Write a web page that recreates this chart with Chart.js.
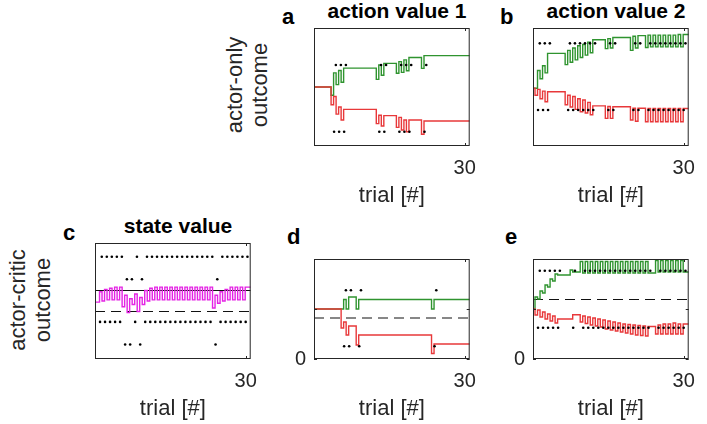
<!DOCTYPE html>
<html><head><meta charset="utf-8">
<script src="https://cdn.jsdelivr.net/npm/chart.js@4.4.1/dist/chart.umd.min.js"></script>
<style>
html,body{margin:0;padding:0;background:#fff;}
body{width:707px;height:424px;position:relative;overflow:hidden;font-family:"Liberation Sans",Arial,sans-serif;color:#262626;}
canvas{position:absolute;}
.t{position:absolute;white-space:nowrap;}
.title{font-weight:bold;font-size:21px;line-height:21px;width:240px;text-align:center;color:#000;}
.let{font-weight:bold;font-size:22px;line-height:22px;color:#000;}
.row{font-size:22px;line-height:25px;text-align:center;transform:translate(-50%,-50%) rotate(-90deg);color:#262626;}
</style></head><body>
<div class="t title" style="left:277px;top:0px;">action value 1</div>
<div class="t title" style="left:496px;top:0px;">action value 2</div>
<div class="t title" style="left:58px;top:215px;">state value</div>
<div class="t let" style="left:282px;top:6px;">a</div>
<div class="t let" style="left:500px;top:6px;">b</div>
<div class="t let" style="left:63px;top:222px;">c</div>
<div class="t let" style="left:287px;top:226px;">d</div>
<div class="t let" style="left:505px;top:226px;">e</div>
<div class="t row" style="left:247px;top:85px;">actor-only<br>outcome</div>
<div class="t row" style="left:30px;top:300px;">actor-critic<br>outcome</div>
<script>
// ---------------- data ----------------
const allTrials = [1,2,3,4,5,6,7,8,9,10,11,12,13,14,15,16,17,18,19,20,21,22,23,24,25,26,27,28,29,30];
// actor-only model: trials where action 1 / action 2 were chosen
const aoTrials1 = [4,5,6,13,14,17,18,19,22];
const aoTrials2 = [1,2,3,7,8,9,10,11,12,15,16,20,21,23,24,25,26,27,28,29,30];
// actor-critic model
const acTrials1 = [6,7,9,24];
const acTrials2 = [1,2,3,4,5,8,10,11,12,13,14,15,16,17,18,19,20,21,22,23,25,26,27,28,29,30];

// panel a (action value 1, actor-only): within-trial dip value and value after each chosen trial
const aStart = 0.50;
const aGreenDip   = [0.43,0.52,0.54,0.565,0.60,0.616,0.624,0.638,0.658];
const aGreenLevel = [0.62,0.64,0.66,0.686,0.70,0.715,0.73,0.75,0.766];
const aRedDip     = [0.35,0.27,0.22,0.19,0.17,0.158,0.136,0.121,0.099];
const aRedLevel   = [0.42,0.33,0.31,0.26,0.257,0.243,0.22,0.22,0.212];

// panel b (action value 2, actor-only)
const bStart = 0.49;
const bGreenDip   = [0.49,0.57,0.62,0.69,0.71,0.73,0.75,0.77,0.79,0.825,0.83,0.81,0.83,0.835,0.84,0.84,0.84,0.84,0.84,0.84,0.84];
const bGreenLevel = [0.64,0.68,0.785,0.81,0.83,0.85,0.86,0.88,0.90,0.91,0.92,0.93,0.935,0.94,0.94,0.94,0.94,0.94,0.94,0.945,0.945];
const bRedDip     = [0.43,0.40,0.375,0.35,0.33,0.31,0.29,0.28,0.265,0.234,0.234,0.22,0.21,0.206,0.206,0.206,0.206,0.206,0.206,0.206,0.206];
const bRedLevel   = [0.48,0.465,0.46,0.43,0.42,0.40,0.39,0.37,0.34,0.335,0.333,0.32,0.32,0.318,0.318,0.318,0.318,0.318,0.318,0.318,0.318];

// panel c (state value, actor-critic)
const cStart = 0.49;
const cDip   = [0.49,0.50,0.51,0.51,0.51,0.45,0.40,0.47,0.41,0.47,0.50,0.51,0.51,0.51,0.51,0.51,0.51,0.51,0.51,0.51,0.51,0.51,0.51,0.44,0.48,0.50,0.51,0.51,0.51,0.51];
const cLevel = [0.58,0.60,0.61,0.62,0.62,0.55,0.52,0.56,0.53,0.59,0.61,0.62,0.62,0.62,0.62,0.62,0.62,0.62,0.62,0.62,0.62,0.62,0.62,0.55,0.58,0.60,0.62,0.62,0.62,0.62];
const cRefSolid = 0.59;
const cRefDashed = 0.41;

// panel d (action value 1, actor-critic)
const dStart = 0.50;
const dGreenDip   = [0.50,0.50,0.50,0.50];
const dGreenLevel = [0.595,0.62,0.595,0.595];
const dRedDip     = [0.31,0.24,0.14,0.055];
const dRedLevel   = [0.37,0.33,0.24,0.15];
const dRefDashed = 0.41;

// panel e (action value 2, actor-critic)
const eStart = 0.50;
const eGreenDip   = [0.62,0.68,0.74,0.80,0.85,0.89,0.975,0.975,0.975,0.975,0.975,0.975,0.975,0.975,0.975,0.975,0.975,0.975,0.975,0.975,0.985,0.985,0.985,0.985,0.985,0.985];
const eGreenLevel = [0.60,0.66,0.72,0.78,0.84,0.87,0.86,0.86,0.86,0.86,0.86,0.86,0.86,0.86,0.86,0.86,0.86,0.86,0.86,0.86,0.87,0.87,0.87,0.87,0.87,0.87];
const eRedDip     = [0.44,0.42,0.40,0.38,0.36,0.40,0.37,0.355,0.34,0.33,0.32,0.30,0.29,0.28,0.27,0.26,0.25,0.24,0.235,0.23,0.25,0.25,0.25,0.25,0.25,0.25];
const eRedLevel   = [0.49,0.47,0.45,0.43,0.40,0.443,0.43,0.42,0.41,0.40,0.39,0.38,0.37,0.36,0.35,0.345,0.34,0.335,0.33,0.325,0.34,0.35,0.35,0.36,0.35,0.35];
const eRefDashed = 0.595;

const xTickLabels = [30];
const yTickLabelsBottom = [0];

// ---------------- drawing ----------------
const FONT = '"Liberation Sans", Arial, sans-serif';
const GREEN = '#2f942f', RED = '#e8383a', MAGENTA = '#e424e4', INK = '#262626';
const X_MAX = 31, DIP_START = 0.6, DIP_END = 0.1, TOP_DOT_SHIFT = 0.35;

function stepSeries(start, events, dips, levels){
  const pts = [{x:0, y:start}];
  let last = start;
  events.forEach((k,i)=>{
    pts.push({x:k-DIP_START, y:dips[i]});
    pts.push({x:k-DIP_END, y:levels[i]});
    last = levels[i];
  });
  pts.push({x:X_MAX, y:last});
  return pts;
}
function dots(events, row, shift){ return events.map(k=>({x:k+shift, y:row})); }
function line(data, color, dash){
  return {data, borderColor:color, borderWidth:1.4, pointRadius:0, stepped:true, tension:0, fill:false, borderDash:dash||[]};
}
function ref(v, dash){
  return {data:[{x:0,y:v},{x:X_MAX,y:v}], borderColor:'#111', borderWidth:1.1, pointRadius:0, fill:false, borderDash:dash||[]};
}
function dotSet(data){
  return {data, showLine:false, pointRadius:1.3, pointBorderWidth:0, pointBackgroundColor:'#000', pointStyle:'circle'};
}

const boxPlugin = {
  id:'box',
  afterDatasetsDraw(chart, args, opts){
    const {ctx, chartArea:a} = chart;
    ctx.save();
    ctx.strokeStyle = INK; ctx.lineWidth = 1;
    ctx.strokeRect(a.left+0.5, a.top+0.5, a.right-a.left-1, a.bottom-a.top-1);
    ctx.beginPath();
    (opts.xMarks||[]).forEach(v=>{
      const px = Math.round(chart.scales.x.getPixelForValue(v))+0.5;
      ctx.moveTo(px, a.bottom); ctx.lineTo(px, a.bottom-3);
      ctx.moveTo(px, a.top); ctx.lineTo(px, a.top+3);
    });
    (opts.yMarks||[]).forEach(v=>{
      const py = Math.round(chart.scales.y.getPixelForValue(v))+0.5;
      ctx.moveTo(a.left, py); ctx.lineTo(a.left+3, py);
      ctx.moveTo(a.right, py); ctx.lineTo(a.right-3, py);
    });
    ctx.stroke();
    ctx.restore();
  }
};

function makePanel(box, datasets, yLabels, yMarks){
  const ML=30, MT=4, MR=6, MB=63;
  const cv = document.createElement('canvas');
  cv.width = box.w+ML+MR; cv.height = box.h+MT+MB;
  cv.style.left = (box.L-ML)+'px'; cv.style.top = (box.T-MT)+'px';
  cv.style.width = cv.width+'px'; cv.style.height = cv.height+'px';
  document.body.appendChild(cv);
  new Chart(cv, {
    type:'line',
    data:{datasets},
    options:{
      responsive:false, animation:false, devicePixelRatio:1,
      layout:{padding:{top:MT, right:MR, left:0, bottom:0}},
      plugins:{legend:{display:false}, tooltip:{enabled:false}, box:{xMarks:xTickLabels, yMarks}},
      scales:{
        x:{type:'linear', min:0, max:X_MAX,
           grid:{display:false, drawTicks:false}, border:{display:false},
           afterBuildTicks:s=>{ s.ticks = xTickLabels.map(v=>({value:v})); },
           ticks:{font:{family:FONT, size:20}, color:INK, padding:10, maxRotation:0, autoSkip:false, callback:v=>String(v)},
           title:{display:true, text:'trial [#]', font:{family:FONT, size:22}, color:INK, padding:0},
           afterFit:s=>{ s.height = MB; }},
        y:{type:'linear', min:0, max:1,
           grid:{display:false, drawTicks:false}, border:{display:false},
           afterBuildTicks:s=>{ s.ticks = yLabels.map(v=>({value:v})); },
           ticks:{display: yLabels.length>0, font:{family:FONT, size:20}, color:INK, padding:8, callback:v=>String(v)},
           afterFit:s=>{ s.width = ML; }}
      }
    },
    plugins:[boxPlugin]
  });
}

// panel a
makePanel({L:314, T:28, w:166, h:118}, [
  dotSet(dots(aoTrials1, 0.686, TOP_DOT_SHIFT)),
  dotSet(dots(aoTrials1, 0.121, 0)),
  line(stepSeries(aStart, aoTrials1, aRedDip, aRedLevel), RED),
  line(stepSeries(aStart, aoTrials1, aGreenDip, aGreenLevel), GREEN)
], [], []);

// panel b
makePanel({L:533, T:28, w:166, h:118}, [
  dotSet(dots(aoTrials2, 0.87, TOP_DOT_SHIFT)),
  dotSet(dots(aoTrials2, 0.305, 0)),
  line(stepSeries(bStart, aoTrials2, bRedDip, bRedLevel), RED),
  line(stepSeries(bStart, aoTrials2, bGreenDip, bGreenLevel), GREEN)
], [], []);

// panel c
makePanel({L:95, T:243, w:166, h:116}, [
  dotSet(dots(acTrials2, 0.882, TOP_DOT_SHIFT)),
  dotSet(dots(acTrials1, 0.687, TOP_DOT_SHIFT)),
  dotSet(dots(acTrials2, 0.32, 0)),
  dotSet(dots(acTrials1, 0.125, 0)),
  line(stepSeries(cStart, allTrials, cDip, cLevel), MAGENTA),
  ref(cRefSolid),
  ref(cRefDashed, [10,6])
], [], []);

// panel d
makePanel({L:314, T:243, w:166, h:116}, [
  dotSet(dots(acTrials1, 0.687, TOP_DOT_SHIFT)),
  dotSet(dots(acTrials1, 0.127, 0)),
  line(stepSeries(dStart, acTrials1, dRedDip, dRedLevel), RED),
  line(stepSeries(dStart, acTrials1, dGreenDip, dGreenLevel), GREEN),
  ref(dRefDashed, [10,6])
], yTickLabelsBottom, [0, 0.5]);

// panel e
makePanel({L:533, T:243, w:166, h:116}, [
  dotSet(dots(acTrials2, 0.882, TOP_DOT_SHIFT)),
  dotSet(dots(acTrials2, 0.313, 0)),
  line(stepSeries(eStart, acTrials2, eRedDip, eRedLevel), RED),
  line(stepSeries(eStart, acTrials2, eGreenDip, eGreenLevel), GREEN),
  ref(eRefDashed, [10,6])
], yTickLabelsBottom, [0, 0.5]);
</script>
</body></html>
